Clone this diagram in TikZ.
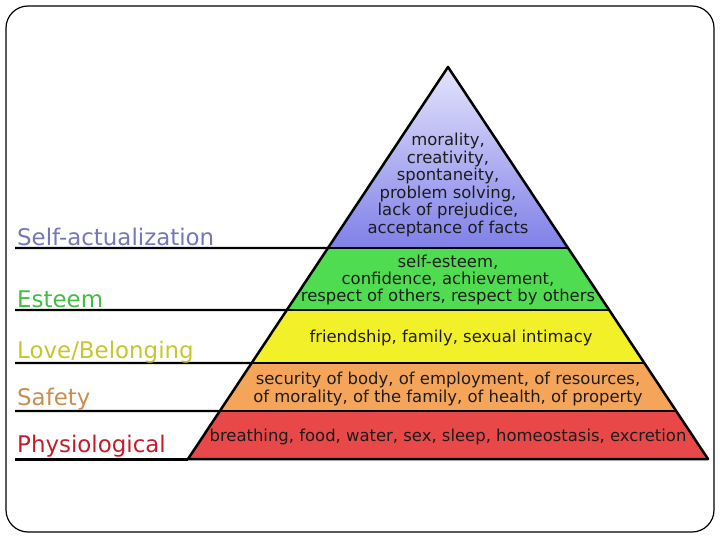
\documentclass[tikz,border=0pt]{standalone}
\usepackage{fontspec}
\setmainfont{DejaVu Sans}
\usetikzlibrary{calc}

\definecolor{selfcol}{RGB}{118,118,184}
\definecolor{esteemcol}{RGB}{66,188,66}
\definecolor{lovecol}{RGB}{198,198,45}
\definecolor{safetycol}{RGB}{200,142,80}
\definecolor{physiocol}{RGB}{198,28,42}
\definecolor{needtext}{RGB}{28,28,28}

\tikzstyle{level} = [anchor=base west, inner sep=0pt, font=\fontsize{23}{26}\selectfont]
\tikzstyle{need} = [align=center, inner sep=0pt, text=needtext, font=\fontsize{16.5}{17.5}\selectfont]
\tikzstyle{rule} = [line width=2.2bp]
\tikzstyle{edge} = [line width=2.5bp, line join=round]
\tikzstyle{selfshade} = [top color={rgb,255:red,228;green,228;blue,252}, bottom color={rgb,255:red,128;green,128;blue,232}]
\tikzstyle{esteemshade} = [left color={rgb,255:red,80;green,220;blue,80}, middle color={rgb,255:red,150;green,240;blue,150}, right color={rgb,255:red,80;green,220;blue,80}]
\tikzstyle{loveshade} = [left color={rgb,255:red,242;green,240;blue,40}, middle color={rgb,255:red,255;green,255;blue,140}, right color={rgb,255:red,242;green,240;blue,40}]
\tikzstyle{safetyshade} = [left color={rgb,255:red,245;green,165;blue,90}, middle color={rgb,255:red,255;green,205;blue,150}, right color={rgb,255:red,245;green,165;blue,90}]
\tikzstyle{physioshade} = [left color={rgb,255:red,232;green,72;blue,72}, middle color={rgb,255:red,248;green,140;blue,140}, right color={rgb,255:red,232;green,72;blue,72}]

\begin{document}
\begin{tikzpicture}[x=1bp, y=-1bp]
    \useasboundingbox (0,0) rectangle (720,540);
    \draw [line width=1.2bp, rounded corners=22bp] (6,6) rectangle (714,532);

    % pyramid corners and layer borders
    \coordinate (top) at (448,67);
    \coordinate (bl) at (188,459);
    \coordinate (br) at (708,459);
    \foreach \i/\t in {1/0.4617, 2/0.6199, 3/0.7551, 4/0.8776} {
        \coordinate (l\i) at ($(top)!\t!(bl)$);
        \coordinate (r\i) at ($(top)!\t!(br)$);
    }
    \coordinate (e1) at (15,248);
    \coordinate (e2) at (15,310);
    \coordinate (e3) at (15,363);
    \coordinate (e4) at (15,411);
    \coordinate (e5) at (15,459);

    % layers
    \shade [selfshade] (top) -- (l1) -- (r1) -- cycle;
    \shade [esteemshade] (l1) -- (l2) -- (r2) -- (r1) -- cycle;
    \shade [loveshade] (l2) -- (l3) -- (r3) -- (r2) -- cycle;
    \shade [safetyshade] (l3) -- (l4) -- (r4) -- (r3) -- cycle;
    \shade [physioshade] (l4) -- (bl) -- (br) -- (r4) -- cycle;

    \draw [edge] (top) -- (bl) -- (br) -- cycle;
    \draw [edge] (l1) -- (r1);
    \draw [edge] (l2) -- (r2);
    \draw [edge] (l3) -- (r3);
    \draw [edge] (l4) -- (r4);

    % rules to the left
    \draw [rule] (e1) -- (l1);
    \draw [rule] (e2) -- (l2);
    \draw [rule] (e3) -- (l3);
    \draw [rule] (e4) -- (l4);
    \draw [line width=3bp] (e5) -- (bl);

    % level names
    \node (selfact) [level, text=selfcol] at (17,246) {Self-actualization};
    \node (esteem) [level, text=esteemcol] at (17,307) {Esteem};
    \node (love) [level, text=lovecol] at (17,358) {Love/Belonging};
    \node (safety) [level, text=safetycol] at (17,405) {Safety};
    \node (physio) [level, text=physiocol] at (17,452) {Physiological};

    % needs
    \node (selfactTxt) [need] at (448,185) {morality,\\creativity,\\spontaneity,\\problem solving,\\lack of prejudice,\\acceptance of facts};
    \node (esteemTxt) [need] at (448,280) {self-esteem,\\confidence, achievement,\\respect of others, respect by others};
    \node (loveTxt) [need] at (451,338) {friendship, family, sexual intimacy};
    \node (safetyTxt) [need] at (448,389) {security of body, of employment, of resources,\\of morality, of the family, of health, of property};
    \node (physioTxt) [need] at (448,437) {breathing, food, water, sex, sleep, homeostasis, excretion};
\end{tikzpicture}
\end{document}
